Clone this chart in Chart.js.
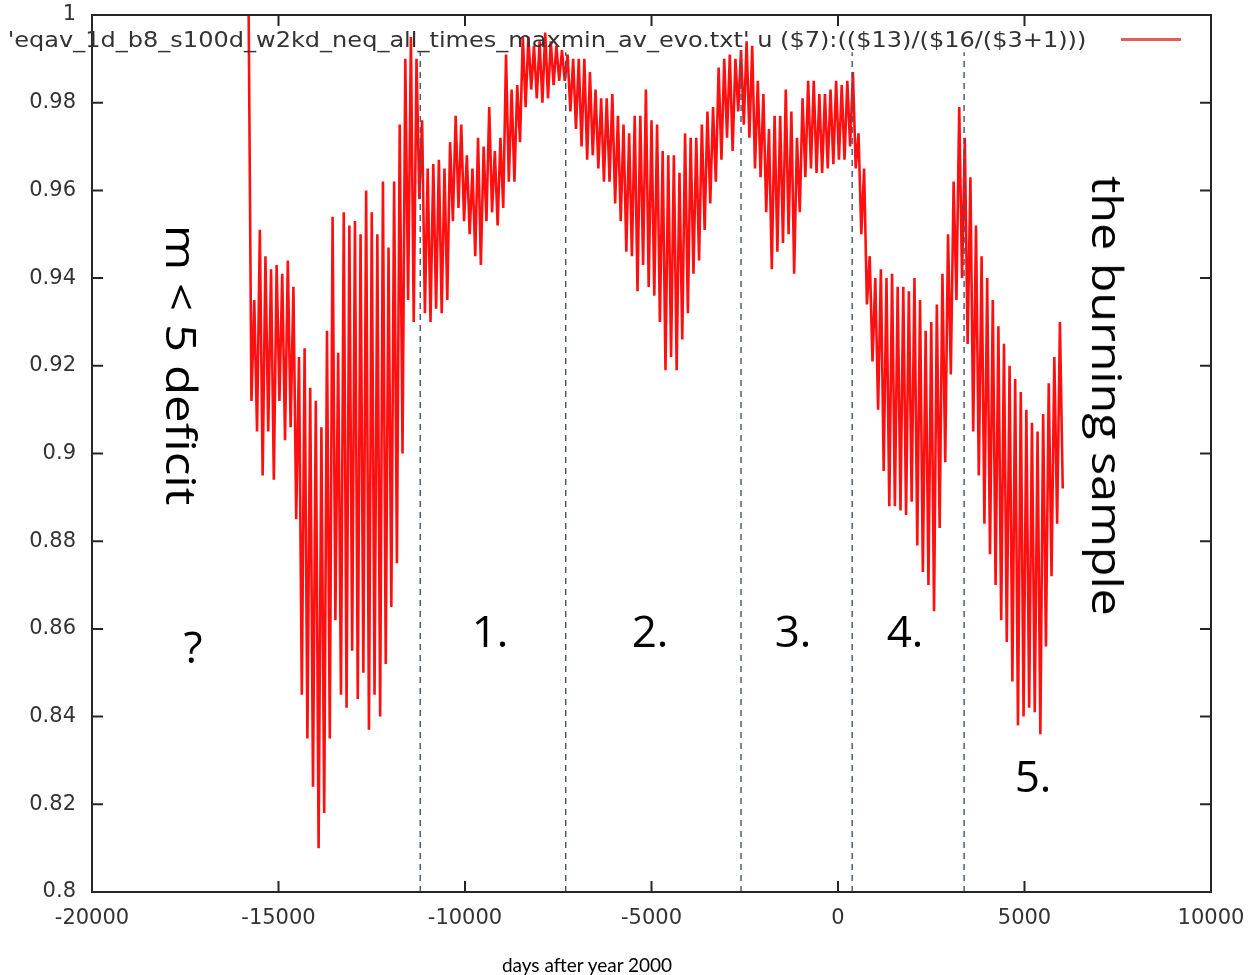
<!DOCTYPE html>
<html><head><meta charset="utf-8">
<script src="https://cdn.jsdelivr.net/npm/chart.js@4.4.0/dist/chart.umd.min.js"></script>
<style>
html,body{margin:0;padding:0;background:#fff;}
#wrap{position:relative;width:1255px;height:975px;overflow:hidden;background:#fff;}
canvas{position:absolute;left:0;top:0;}
.t{position:absolute;left:0;top:0;white-space:nowrap;color:#000;line-height:1;font-family:"Open Sans",sans-serif;}
</style></head><body>
<div id="wrap">
<canvas id="c" width="1255" height="975"></canvas>
</div>
<script>
// ---------------- data ----------------
const seriesLabel = "'eqav_1d_b8_s100d_w2kd_neq_all_times_maxmin_av_evo.txt' u ($7):(($13)/($16/($3+1)))";
const firstDay = -15800;      // first sample (days after year 2000)
const halfStepDays = 75;      // samples alternate max / min every 75 days
const highs = [1.000,0.935,0.951,0.945,0.942,0.943,0.941,0.944,0.938,0.922,
0.924,0.915,0.912,0.906,0.928,0.954,0.923,0.955,0.952,0.953,
0.950,0.960,0.955,0.950,0.962,0.947,0.962,0.975,0.990,0.995,
0.990,0.976,0.965,0.966,0.967,0.965,0.971,0.977,0.975,0.968,
0.965,0.972,0.970,0.979,0.969,0.972,0.991,0.983,0.984,0.995,
0.995,0.993,0.994,0.996,0.994,0.993,0.992,0.991,0.990,0.990,
0.990,0.987,0.983,0.981,0.981,0.982,0.977,0.975,0.973,0.977,
0.977,0.983,0.976,0.975,0.969,0.968,0.968,0.964,0.973,0.972,
0.972,0.975,0.978,0.979,0.988,0.990,0.991,0.990,0.992,0.994,
0.993,0.985,0.982,0.974,0.977,0.977,0.983,0.978,0.972,0.981,
0.985,0.985,0.982,0.982,0.983,0.985,0.984,0.985,0.987,0.973,
0.965,0.945,0.940,0.942,0.940,0.941,0.938,0.938,0.937,0.940,
0.935,0.928,0.930,0.934,0.941,0.950,0.962,0.979,0.972,0.963,
0.952,0.945,0.940,0.935,0.929,0.925,0.920,0.917,0.914,0.910,
0.907,0.905,0.909,0.916,0.922,0.930];
const lows = [0.912,0.905,0.895,0.905,0.894,0.912,0.903,0.906,0.885,0.845,
0.835,0.824,0.810,0.818,0.835,0.862,0.845,0.842,0.855,0.844,
0.850,0.837,0.845,0.840,0.852,0.865,0.875,0.900,0.935,0.930,
0.958,0.932,0.930,0.933,0.932,0.935,0.953,0.956,0.953,0.950,
0.945,0.943,0.953,0.955,0.952,0.956,0.962,0.962,0.971,0.979,
0.983,0.981,0.980,0.981,0.984,0.985,0.985,0.978,0.974,0.970,
0.967,0.968,0.965,0.962,0.962,0.957,0.953,0.946,0.945,0.937,
0.943,0.938,0.936,0.930,0.919,0.922,0.919,0.926,0.932,0.941,
0.944,0.951,0.957,0.962,0.967,0.972,0.969,0.978,0.975,0.972,
0.965,0.963,0.955,0.942,0.946,0.948,0.950,0.941,0.955,0.963,
0.965,0.964,0.964,0.965,0.966,0.967,0.967,0.970,0.965,0.950,
0.934,0.921,0.910,0.896,0.888,0.888,0.887,0.886,0.889,0.879,
0.873,0.870,0.864,0.883,0.898,0.918,0.935,0.940,0.925,0.905,
0.895,0.884,0.877,0.870,0.862,0.857,0.848,0.838,0.840,0.842,
0.841,0.836,0.856,0.872,0.884,0.892];
const dividerDays = [-11200, -7300, -2600, 380, 3380];
const dividerTop = 0.9915;
const xTickLabels = ['-20000','-15000','-10000','-5000','0','5000','10000'];
const yTickLabels = ['0.8','0.82','0.84','0.86','0.88','0.9','0.92','0.94','0.96','0.98','1'];
const xTitle = 'days after year 2000';
const annotations = [
  {text:'m < 5 deficit', cx:182, cy:365, size:42, len:280, rot:90},
  {text:'the burning sample', cx:1108, cy:396, size:42, len:440, rot:90},
  {text:'?', cx:193, cy:646, size:44},
  {text:'1.', cx:490, cy:630, size:44},
  {text:'2.', cx:650, cy:630, size:44},
  {text:'3.', cx:793, cy:630, size:44},
  {text:'4.', cx:905, cy:630, size:44},
  {text:'5.', cx:1033, cy:775, size:44}
];

// ---------------- build ----------------
const seriesPts = [];
highs.forEach((h,i)=>{
  const d = firstDay + 2*halfStepDays*i;
  seriesPts.push({x:d, y:h});
  seriesPts.push({x:d+halfStepDays, y:lows[i]});
});
const datasets = [{
  label: seriesLabel, data: seriesPts, borderColor:'#ff1010', borderWidth:2.6,
  pointRadius:0, tension:0, order:2, fill:false
}];
dividerDays.forEach(d=>{
  datasets.push({label:'div', data:[{x:d,y:0.8},{x:d,y:dividerTop}], borderColor:'#44546e',
    borderWidth:1.4, borderDash:[6,5], pointRadius:0, order:1, fill:false});
});

const framePlugin = {
  id:'frame',
  afterDatasetsDraw(chart){
    const {ctx, chartArea:a, scales:{x,y}} = chart;
    ctx.save();
    ctx.strokeStyle = '#262626'; ctx.lineWidth = 2;
    ctx.strokeRect(a.left, a.top, a.right-a.left, a.bottom-a.top);
    ctx.beginPath();
    x.ticks.forEach(t=>{const px=x.getPixelForValue(t.value);
      ctx.moveTo(px,a.bottom); ctx.lineTo(px,a.bottom-11);
      ctx.moveTo(px,a.top); ctx.lineTo(px,a.top+11);});
    y.ticks.forEach(t=>{const py=y.getPixelForValue(t.value);
      ctx.moveTo(a.left,py); ctx.lineTo(a.left+11,py);
      ctx.moveTo(a.right,py); ctx.lineTo(a.right-11,py);});
    ctx.stroke(); ctx.restore();
  }
};

const tickFont = {family:'DejaVu Sans', size:21};
new Chart(document.getElementById('c'), {
  type:'line',
  data:{datasets},
  options:{
    responsive:false, animation:false, devicePixelRatio:1,
    layout:{padding:{left:0,right:44,top:15,bottom:0}},
    plugins:{legend:{display:false}, tooltip:{enabled:false}},
    scales:{
      x:{type:'linear', min:-20000, max:10000,
        ticks:{stepSize:5000, font:tickFont, color:'#333', padding:14, maxRotation:0,
          callback:(v,i)=>xTickLabels[i]},
        grid:{display:true, drawOnChartArea:false, drawTicks:false},
        border:{display:false},
        afterFit:s=>{s.height=83; s.paddingLeft=0; s.paddingRight=0;}},
      y:{type:'linear', min:0.8, max:1,
        ticks:{stepSize:0.02, font:tickFont, color:'#333', padding:16,
          callback:(v,i)=>yTickLabels[i]},
        grid:{display:true, drawOnChartArea:false, drawTicks:false},
        border:{display:false},
        afterFit:s=>{s.width=92; s.paddingTop=0; s.paddingBottom=0;}}
    }
  },
  plugins:[framePlugin]
});

// ---------------- text overlays ----------------
const wrap = document.getElementById('wrap');
function addText(txt, font, size, color){
  const el = document.createElement('div');
  el.className='t'; el.textContent=txt;
  el.style.fontFamily=font; el.style.fontSize=size+'px'; el.style.color=color;
  wrap.appendChild(el); return el;
}
function place(el, cx, cy, len, rot){
  const w = el.offsetWidth;
  const s = len ? len/w : 1;
  el.style.left=cx+'px'; el.style.top=cy+'px';
  el.style.transform=`translate(-50%,-50%) rotate(${rot||0}deg) scaleX(${s})`;
}
const items=[];
const leg = addText(seriesLabel, '"DejaVu Sans"', 21, '#333');
items.push([leg, 547, 40, 1079, 0]);
const sample = document.createElement('div');
sample.style.cssText='position:absolute;left:1121px;top:38px;width:60px;height:3px;background:#e35b5b;';
wrap.appendChild(sample);
const xt = addText(xTitle, 'Lato', 19, '#000');
items.push([xt, 587, 964, 0, 0]);
annotations.forEach(a=>{
  const el = addText(a.text, '"Open Sans"', a.size, '#000');
  items.push([el, a.cx, a.cy, a.len||0, a.rot||0]);
});
function layoutTexts(){ items.forEach(it=>place(it[0],it[1],it[2],it[3],it[4])); }
layoutTexts();
if (document.fonts && document.fonts.ready) document.fonts.ready.then(layoutTexts);
</script>
</body></html>
